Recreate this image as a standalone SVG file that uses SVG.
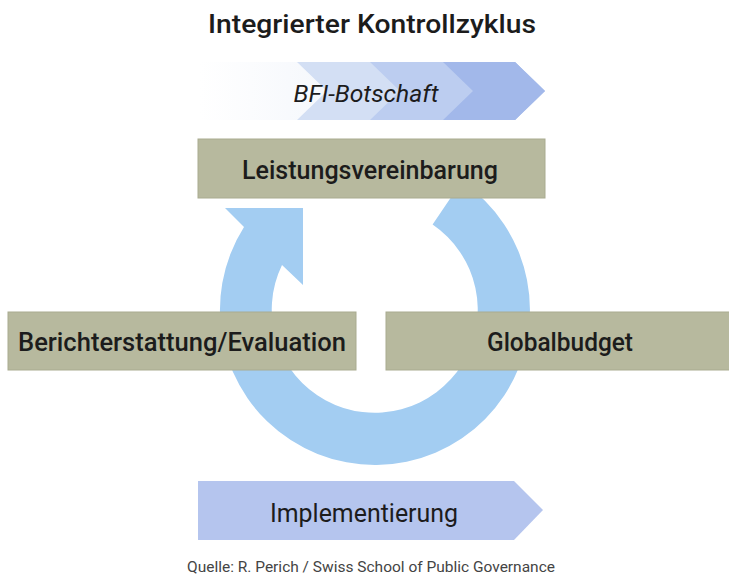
<svg xmlns="http://www.w3.org/2000/svg" width="729" height="575" viewBox="0 0 729 575">
<defs>
<style>
.t{font-family:Roboto,"Liberation Sans",sans-serif;fill:#1c1c1c;text-anchor:middle}
.box{fill:#b7b99e;stroke:#a9ab90;stroke-width:1}
.m{font-weight:500;font-size:25px}
</style>
<linearGradient id="fade" x1="0" y1="0" x2="1" y2="0">
<stop offset="0" stop-color="#ffffff"/>
<stop offset="1" stop-color="#e4ebf7"/>
</linearGradient>
</defs>
<rect width="729" height="575" fill="#ffffff"/>
<text class="t m" x="372" y="33" textLength="328" lengthAdjust="spacingAndGlyphs">Integrierter Kontrollzyklus</text>

<g id="connectors">
<path d="M244,227 A155,155 0 1 0 461.7,181.5 L432.6,224.6 A103,103 0 1 1 282,265 L303,285 L303,208 L225,208 Z" fill="#a3cdf2"/>
</g>

<g id="bfi">
<polygon points="200,62 515,62 545,91 515,120 200,120" fill="url(#fade)"/>
<polygon points="297,62 515,62 545,91 515,120 297,120 327,91" fill="#d3dff4"/>
<polygon points="370,62 515,62 545,91 515,120 370,120 400,91" fill="#bccdf0"/>
<polygon points="443,62 515,62 545,91 515,120 443,120 473,91" fill="#a2b8ea"/>
<text class="t" x="366" y="102" font-size="24" font-style="italic" textLength="145" lengthAdjust="spacingAndGlyphs">BFI-Botschaft</text>
</g>

<g id="leistungsvereinbarung">
<rect class="box" x="198" y="139" width="347" height="59"/>
<text class="t m" x="370" y="179" textLength="256" lengthAdjust="spacingAndGlyphs">Leistungsvereinbarung</text>
</g>

<g id="berichterstattung">
<rect class="box" x="8" y="312" width="348" height="58"/>
<text class="t m" x="182" y="351" textLength="328" lengthAdjust="spacingAndGlyphs">Berichterstattung/Evaluation</text>
</g>

<g id="globalbudget">
<rect class="box" x="386" y="312" width="345" height="58"/>
<text class="t m" x="560" y="351" textLength="146" lengthAdjust="spacingAndGlyphs">Globalbudget</text>
</g>

<g id="implementierung">
<polygon points="198,481 514,481 543,510 514,540 198,540" fill="#b5c5ee"/>
<text class="t" x="364" y="522" font-size="26" textLength="188" lengthAdjust="spacingAndGlyphs">Implementierung</text>
</g>

<text class="t" x="371" y="572" font-size="14" fill="#444" style="fill:#444" textLength="368" lengthAdjust="spacingAndGlyphs">Quelle: R. Perich / Swiss School of Public Governance</text>
</svg>
